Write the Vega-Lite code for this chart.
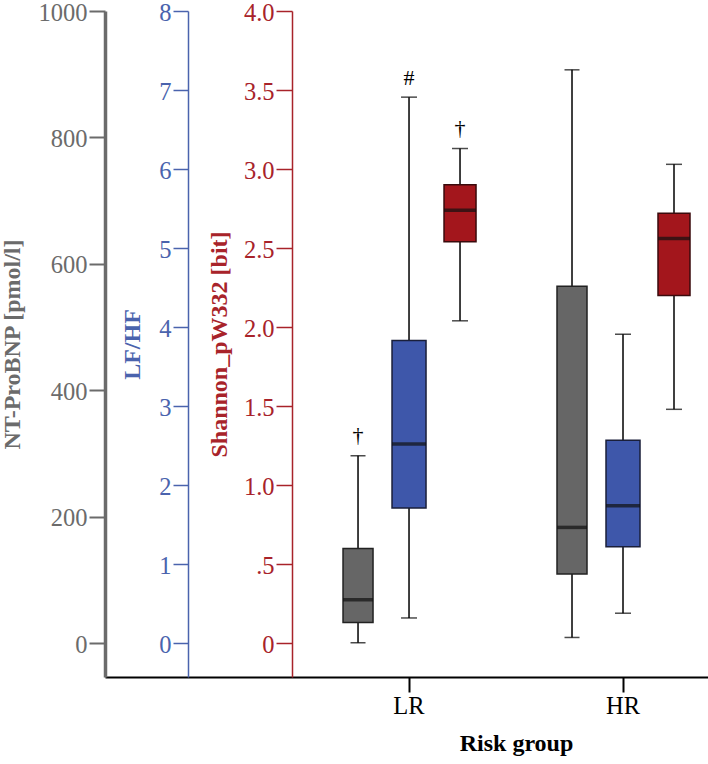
{
  "$schema": "https://vega.github.io/schema/vega-lite/v6.json",
  "autosize": {"type": "none"},
  "padding": {"left": 105, "top": 11, "right": 0, "bottom": 87},
  "width": 603,
  "height": 666,
  "config": {
    "view": {"stroke": null},
    "font": "Liberation Serif",
    "axis": {"grid": false, "labelFont": "Liberation Serif", "titleFont": "Liberation Serif", "labelFontSize": 24.5, "titleFontSize": 24, "titleFontWeight": "bold", "labelPadding": 2},
    "axisY": {"labelOffset": 2}
  },
  "data": {
    "values": [
      {"group": "LR", "series": "NT", "lower": 1, "q1": 33, "median": 69, "q3": 150, "upper": 297, "note": "†"},
      {"group": "HR", "series": "NT", "lower": 9.5, "q1": 110, "median": 183.5, "q3": 565, "upper": 907, "note": ""},
      {"group": "LR", "series": "LFHF", "lower": 0.32, "q1": 1.71, "median": 2.52, "q3": 3.83, "upper": 6.91, "note": "#"},
      {"group": "HR", "series": "LFHF", "lower": 0.38, "q1": 1.22, "median": 1.74, "q3": 2.57, "upper": 3.91, "note": ""},
      {"group": "LR", "series": "Shannon", "lower": 2.04, "q1": 2.54, "median": 2.74, "q3": 2.9, "upper": 3.13, "note": "†"},
      {"group": "HR", "series": "Shannon", "lower": 1.48, "q1": 2.2, "median": 2.56, "q3": 2.72, "upper": 3.03, "note": ""}
    ]
  },
  "encoding": {
    "x": {
      "field": "group",
      "type": "nominal",
      "sort": ["LR", "HR"],
      "title": "Risk group",
      "scale": {"domain": ["LR", "HR"], "paddingInner": 0.285, "paddingOuter": 0.5515, "align": 0.964},
      "axis": {"labelAngle": 0, "domainColor": "black", "domainWidth": 2, "tickColor": "black", "tickWidth": 2, "tickSize": 15, "labelColor": "black", "labelPadding": 2, "titleColor": "black", "titlePadding": 14, "titleX": 411}
    },
    "xOffset": {"field": "series", "type": "nominal", "scale": {"domain": ["NT", "LFHF", "Shannon"]}}
  },
  "layer": [
    {
      "transform": [{"filter": "datum.series == 'NT'"}],
      "layer": [
        {"mark": {"type": "rule", "color": "black", "strokeWidth": 1.5},
         "encoding": {"y": {"field": "lower", "type": "quantitative", "title": "NT-ProBNP [pmol/l]", "scale": {"domain": [-53, 1000], "nice": false, "zero": false}}, "y2": {"field": "upper"}}},
        {"mark": {"type": "tick", "color": "black", "thickness": 1.5, "size": 15},
         "encoding": {"y": {"field": "upper", "type": "quantitative", "title": "NT-ProBNP [pmol/l]", "scale": {"domain": [-53, 1000], "nice": false, "zero": false}}}},
        {"mark": {"type": "tick", "color": "black", "thickness": 1.5, "size": 15},
         "encoding": {"y": {"field": "lower", "type": "quantitative", "title": "NT-ProBNP [pmol/l]", "scale": {"domain": [-53, 1000], "nice": false, "zero": false}}}},
        {"mark": {"type": "bar", "size": 30, "fill": "#666666", "stroke": "#222222", "strokeWidth": 1.5},
         "encoding": {
           "y": {"field": "q1", "type": "quantitative", "title": "NT-ProBNP [pmol/l]", "scale": {"domain": [-53, 1000], "nice": false, "zero": false},
             "axis": {"orient": "left", "values": [0, 200, 400, 600, 800, 1000], "format": "d", "domainColor": "#6b6b6b", "domainWidth": 3.5, "tickColor": "#6b6b6b", "tickWidth": 2, "tickSize": 16, "labelColor": "#6b6b6b", "titleColor": "#6b6b6b", "titlePadding": 14}},
           "y2": {"field": "q3"}}},
        {"mark": {"type": "tick", "color": "#111111", "thickness": 3.5, "size": 30},
         "encoding": {"y": {"field": "median", "type": "quantitative", "title": "NT-ProBNP [pmol/l]", "scale": {"domain": [-53, 1000], "nice": false, "zero": false}}}},
        {"mark": {"type": "text", "fontSize": 22, "dy": -21, "baseline": "middle", "color": "black"},
         "encoding": {"y": {"field": "upper", "type": "quantitative", "title": "NT-ProBNP [pmol/l]", "scale": {"domain": [-53, 1000], "nice": false, "zero": false}}, "text": {"field": "note"}}}
      ]
    },
    {
      "transform": [{"filter": "datum.series == 'LFHF'"}],
      "layer": [
        {"mark": {"type": "rule", "color": "black", "strokeWidth": 1.5},
         "encoding": {"y": {"field": "lower", "type": "quantitative", "title": "LF/HF", "scale": {"domain": [-0.427, 8], "nice": false, "zero": false}}, "y2": {"field": "upper"}}},
        {"mark": {"type": "tick", "color": "black", "thickness": 1.5, "size": 16},
         "encoding": {"y": {"field": "upper", "type": "quantitative", "title": "LF/HF", "scale": {"domain": [-0.427, 8], "nice": false, "zero": false}}}},
        {"mark": {"type": "tick", "color": "black", "thickness": 1.5, "size": 16},
         "encoding": {"y": {"field": "lower", "type": "quantitative", "title": "LF/HF", "scale": {"domain": [-0.427, 8], "nice": false, "zero": false}}}},
        {"mark": {"type": "bar", "size": 34, "fill": "#3e57aa", "stroke": "#1a1f3a", "strokeWidth": 1.5},
         "encoding": {
           "y": {"field": "q1", "type": "quantitative", "title": "LF/HF", "scale": {"domain": [-0.427, 8], "nice": false, "zero": false},
             "axis": {"orient": "left", "offset": -83, "values": [0, 1, 2, 3, 4, 5, 6, 7, 8], "format": "d", "domainColor": "#4a63ad", "domainWidth": 1.5, "tickColor": "#4a63ad", "tickWidth": 1.5, "tickSize": 15, "labelColor": "#4a63ad", "titleColor": "#4a63ad", "titlePadding": 14}},
           "y2": {"field": "q3"}}},
        {"mark": {"type": "tick", "color": "#111111", "thickness": 3.5, "size": 34},
         "encoding": {"y": {"field": "median", "type": "quantitative", "title": "LF/HF", "scale": {"domain": [-0.427, 8], "nice": false, "zero": false}}}},
        {"mark": {"type": "text", "fontSize": 22, "dy": -19, "baseline": "middle", "color": "black"},
         "encoding": {"y": {"field": "upper", "type": "quantitative", "title": "LF/HF", "scale": {"domain": [-0.427, 8], "nice": false, "zero": false}}, "text": {"field": "note"}}}
      ]
    },
    {
      "transform": [{"filter": "datum.series == 'Shannon'"}],
      "layer": [
        {"mark": {"type": "rule", "color": "black", "strokeWidth": 1.5},
         "encoding": {"y": {"field": "lower", "type": "quantitative", "title": "Shannon_pW332 [bit]", "scale": {"domain": [-0.2135, 4], "nice": false, "zero": false}}, "y2": {"field": "upper"}}},
        {"mark": {"type": "tick", "color": "black", "thickness": 1.5, "size": 16},
         "encoding": {"y": {"field": "upper", "type": "quantitative", "title": "Shannon_pW332 [bit]", "scale": {"domain": [-0.2135, 4], "nice": false, "zero": false}}}},
        {"mark": {"type": "tick", "color": "black", "thickness": 1.5, "size": 16},
         "encoding": {"y": {"field": "lower", "type": "quantitative", "title": "Shannon_pW332 [bit]", "scale": {"domain": [-0.2135, 4], "nice": false, "zero": false}}}},
        {"mark": {"type": "bar", "size": 32, "fill": "#a3161c", "stroke": "#3a0a0c", "strokeWidth": 1.5},
         "encoding": {
           "y": {"field": "q1", "type": "quantitative", "title": "Shannon_pW332 [bit]", "scale": {"domain": [-0.2135, 4], "nice": false, "zero": false},
             "axis": {"orient": "left", "offset": -187, "values": [0, 0.5, 1, 1.5, 2, 2.5, 3, 3.5, 4], "labelExpr": "datum.value == 0 ? '0' : datum.value == 0.5 ? '.5' : format(datum.value, '.1f')", "domainColor": "#a8232a", "domainWidth": 1.5, "tickColor": "#a8232a", "tickWidth": 1.5, "tickSize": 16, "labelColor": "#a8232a", "titleColor": "#a8232a", "titlePadding": 12}},
           "y2": {"field": "q3"}}},
        {"mark": {"type": "tick", "color": "#111111", "thickness": 3.5, "size": 32},
         "encoding": {"y": {"field": "median", "type": "quantitative", "title": "Shannon_pW332 [bit]", "scale": {"domain": [-0.2135, 4], "nice": false, "zero": false}}}},
        {"mark": {"type": "text", "fontSize": 22, "dy": -21, "baseline": "middle", "color": "black"},
         "encoding": {"y": {"field": "upper", "type": "quantitative", "title": "Shannon_pW332 [bit]", "scale": {"domain": [-0.2135, 4], "nice": false, "zero": false}}, "text": {"field": "note"}}}
      ]
    }
  ],
  "resolve": {"scale": {"y": "independent"}}
}
